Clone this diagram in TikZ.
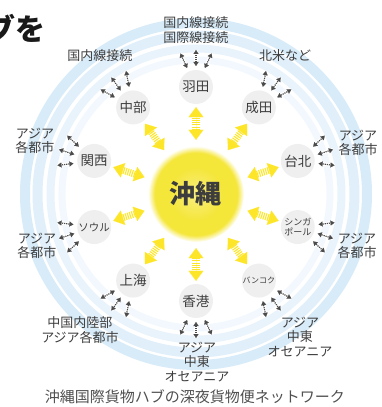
\documentclass[tikz,border=0pt]{standalone}
\usepackage{fontspec}
\setmainfont{Noto Sans CJK JP}
\usetikzlibrary{arrows.meta,calc}

\definecolor{OYellow}{HTML}{F5E63A}
\definecolor{OLight}{HTML}{F8EE80}
\definecolor{AYellow}{HTML}{FDE62A}
\definecolor{PYellow}{HTML}{FFF7C2}
\definecolor{RBlueA}{HTML}{D8EBF8}
\definecolor{RBlueB}{HTML}{E0EFFA}
\definecolor{RBlueC}{HTML}{E9F3FB}
\definecolor{RBlueD}{HTML}{F2F8FD}
\definecolor{NGray}{HTML}{EFEFEF}
\definecolor{TGray}{HTML}{3D3D3D}
\definecolor{AGray}{HTML}{4B4B4B}

\pgfdeclareradialshading{okiglow}{\pgfpointorigin}{color(0bp)=(OLight); color(14bp)=(OYellow); color(21.5bp)=(OYellow); color(25bp)=(white); color(50bp)=(white)}

\tikzset{
	hub/.style={circle, fill=NGray, minimum size=34, inner sep=0, align=center, text=TGray, font=\fontsize{13.5}{14}\selectfont},
	dest/.style={inner sep=1, align=center, text=TGray, font=\fontsize{13}{14.5}\selectfont},
	bigarrow/.style={draw=AYellow, line width=7, dash pattern=on 1.1pt off 1.1pt, {Triangle[width=15pt,length=10pt,line width=0.1pt]}-{Triangle[width=15pt,length=10pt,line width=0.1pt]}, preaction={draw=PYellow, solid, arrows=-}, shorten <=6, shorten >=3},
	minarrow/.style={draw=AGray, line width=1.2, dash pattern=on 1.2pt off 0.9pt, {Triangle[width=5pt,length=4pt,line width=0.1pt]}-{Triangle[width=5pt,length=4pt,line width=0.1pt]}, preaction={draw=white, line width=3.5, solid, arrows=-}}
}

\begin{document}
\begin{tikzpicture}[x=1pt, y=1pt]
			\useasboundingbox (-196,-213) rectangle (186,194);
			\clip (-196,-213) rectangle (186,194);
			\draw[RBlueA, line width=10] (0,0) circle (171);
			\draw[RBlueB, line width=10] (0,0) circle (158.5);
			\draw[RBlueC, line width=8] (0,0) circle (145.5);
			\draw[RBlueD, line width=7] (0,0) circle (134);

			\node[dest] (lhaneda) at (0,164) {国内線接続\\国際線接続};
			\node[dest] (lnarita) at (89,138) {北米など};
			\node[dest] (lchubu) at (-96,138) {国内線接続};
			\node[dest] (ltaipei) at (162,51) {アジア\\各都市};
			\node[dest] (lkansai) at (-161,53) {アジア\\各都市};
			\node[dest] (lseoul) at (-159,-52) {アジア\\各都市};
			\node[dest] (lsingapore) at (161,-52) {アジア\\各都市};
			\node[dest] (lshanghai) at (-116,-136) {中国内陸部\\アジア各都市};
			\node[dest] (lbangkok) at (104,-143) {アジア\\中東\\オセアニア};
			\node[dest] (lhongkong) at (1,-168) {アジア\\中東\\オセアニア};

			\node[hub] (haneda) at (90:107) {羽田};
			\node[hub] (narita) at (54:107) {成田};
			\node[hub] (taipei) at (18:107) {台北};
			\node[hub, font=\fontsize{9}{9.5}\selectfont] (singapore) at (-18:107) {シンガ\\ポール};
			\node[hub, font=\fontsize{8}{9}\selectfont] (bangkok) at (-54:107) {バンコク};
			\node[hub] (hongkong) at (-90:107) {香港};
			\node[hub] (shanghai) at (-126:107) {上海};
			\node[hub, font=\fontsize{10.5}{11}\selectfont] (seoul) at (-162:107) {ソウル};
			\node[hub] (kansai) at (162:107) {関西};
			\node[hub] (chubu) at (126:107) {中部};

			\node[circle, shade, shading=okiglow, minimum size=96, text=TGray, font=\fontsize{26}{28}\selectfont\bfseries] (okinawa) at (0,0) {沖縄};

			\foreach \h in {haneda,narita,taipei,singapore,bangkok,hongkong,shanghai,seoul,kansai,chubu}
				\draw[bigarrow] (okinawa) -- (\h);

			\foreach \h/\a in {haneda/90,narita/54,taipei/18,singapore/-18,bangkok/-54,hongkong/-90,shanghai/-126,seoul/-162,kansai/162,chubu/126}
				\foreach \d in {-25,0,25}
					\draw[minarrow] ($(\h)+(\a+\d:21)$) -- ($(\h)+(\a+\d:37)$);

			\node[font=\fontsize{30}{32}\selectfont\bfseries, text=black!90] (title) at (-180,166) {ブを};
			\node[font=\fontsize{15}{16}\selectfont, text=TGray!90] (caption) at (-1,-203) {沖縄国際貨物ハブの深夜貨物便ネットワーク};
		\end{tikzpicture}
\end{document}
